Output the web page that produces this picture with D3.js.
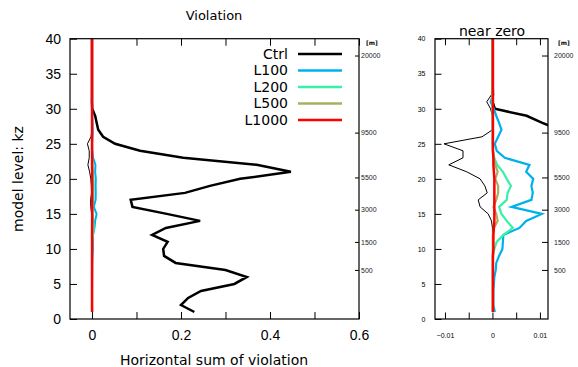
<!DOCTYPE html>
<html>
<head>
<meta charset="utf-8">
<style>
body { margin: 0; background: #fff; }
svg { font-family: "DejaVu Sans", sans-serif; }
.axis path { display: none; }
.axis line { stroke: #000; stroke-width: 1; }
.frame { fill: none; stroke: #000; stroke-width: 1.2; }
.line { fill: none; stroke-linejoin: miter; }
</style>
</head>
<body>
<script src="https://cdn.jsdelivr.net/npm/d3@7"></script>
<script>

// model levels 1..40
var kz = d3.range(1, 41);

var ctrl = [0.23, 0.2, 0.216, 0.245, 0.32, 0.348, 0.30, 0.188, 0.162, 0.16,
            0.17, 0.135, 0.166, 0.243, 0.168, 0.091, 0.087, 0.209, 0.265, 0.333,
            0.447, 0.37, 0.205, 0.108, 0.052, 0.025, 0.014, 0.0105, 0.0072, 0.0005,
            0, 0, 0, 0, 0, 0, 0, 0, 0, 0];

// thin black line (no legend entry)
var ctrlThin = [0, 0, 0, 0, 0, 0, 0, 0, 0, 0,
                0, 0, 0, -0.0002, -0.0009, -0.0026, -0.003, -0.0011, -0.0016, -0.0026,
                -0.0054, -0.0092, -0.0062, -0.0062, -0.0102, -0.0022, 0, 0, 0, -0.0004,
                -0.0012, -0.0002, 0, 0, 0, 0, 0, 0, 0, 0];

var l100 = [0.0005, 0.0002, 0.0002, 0.0002, 0.0003, 0.0004, 0.0007, 0.0008, 0.0014, 0.0021,
            0.0022, 0.0023, 0.0057, 0.0071, 0.0104, 0.004, 0.0082, 0.0085, 0.0082, 0.0086,
            0.0071, 0.0078, 0.0026, 0.0009, 0.0005, 0.0012, 0.0019, 0.0014, 0.0008, 0.0003,
            -0.0004, 0.0002, 0.0001, 0, 0, 0, 0, 0, 0, 0];

var l200 = [0.0001, 0.0001, 0.0001, 0.0001, 0.0001, 0.0001, 0.0001, 0.0001, 0.0001, 0.0004,
            0.0009, 0.0023, 0.0043, 0.003, 0.0019, 0.0014, 0.003, 0.0032, 0.0039, 0.003,
            0.0022, 0.001, 0.0004, 0.0001, 0, 0, 0, 0, 0, 0,
            0, 0, 0, 0, 0, 0, 0, 0, 0, 0];

var l500 = [0.0001, 0.0001, 0.0001, 0.0001, 0.0001, 0.0001, 0.0001, 0.0001, 0.0001, 0.0001,
            0.0001, 0.0001, 0.0003, 0.0011, 0.0008, 0.0002, 0.0008, 0.0012, 0.0012, 0.0006,
            0.0011, 0.0006, 0.0002, 0.0001, 0.0001, 0.0001, 0.0001, 0.0001, 0.0001, 0.0001,
            0, 0, 0, 0, 0, 0, 0, 0, 0, 0];

var l1000 = [0.0001, 0.0001, 0.0001, 0.0001, 0.0001, 0.0001, 0.0001, 0.0001, 0.0001, 0.0002,
             0.0002, 0.0002, 0.0003, 0.0004, 0.0004, 0.0004, 0.0004, 0.0004, 0.0004, 0.0004,
             0.0003, 0.0002, 0.0002, 0.0001, 0.0001, 0.0001, 0.0001, 0.0001, 0.0001, 0.0001,
             0.0001, 0.0001, 0.0001, 0.0001, 0.0001, 0.0001, 0.0001, 0.0001, 0.0001, 0.0001];

var seriesNames = ["Ctrl", "L100", "L200", "L500", "L1000"];
var seriesColors = ["#000000", "#00b0ec", "#38f0a8", "#a8b060", "#ff0000"];

// height axis (right side), in metres, at model level
var heightLabels = ["20000", "9500", "5500", "3000", "1500", "500"];
var heightLevels = [37.6, 26.6, 20.2, 15.6, 11.0, 7.0];

var svg = d3.select("body").append("svg")
    .attr("width", 578)
    .attr("height", 367);

var plotTop = 38.7, plotBottom = 319;

var y = d3.scaleLinear().domain([0, 40]).range([plotBottom, plotTop]);

var panels = [
  { id: "a", x: d3.scaleLinear().domain([-0.0494, 0.6]).range([70, 359]),
    xTicks: d3.range(0, 0.61, 0.1), xLabelEvery: 0.2,
    tickFont: 14, tickLen: 7, xPad: 11.5, yPad: 9,
    hPad: 2, hLen: 4, thin: 1, colW: 2, title: "Violation", titleSize: 13,
    titleX: 214, titleY: 20 },
  { id: "b", x: d3.scaleLinear().domain([-0.0121, 0.0117]).range([435, 548]),
    xTicks: [-0.01, -0.005, 0, 0.005, 0.01], xLabelEvery: 0.01,
    tickFont: 7, tickLen: 6.5, xPad: 14, yPad: 9.5,
    hPad: 6, hLen: 6, thin: 1, colW: 2.2, title: "near zero", titleSize: 14,
    titleX: 492, titleY: 36 }
];

var allSeries = [ctrl, l100, l200, l500, l1000];

panels.forEach(function(p) {
  var x = p.x;
  var x0 = x.range()[0], x1 = x.range()[1];
  var g = svg.append("g");

  g.append("clipPath").attr("id", "clip-" + p.id)
    .append("rect")
    .attr("x", x0).attr("y", plotTop)
    .attr("width", x1 - x0).attr("height", plotBottom - plotTop);

  var fmt = function(d) {
    var r = Math.abs(d / p.xLabelEvery - Math.round(d / p.xLabelEvery));
    if (r > 1e-6) return "";
    if (Math.abs(d) < 1e-9) return "0";
    return d3.format("~g")(+d.toFixed(4));
  };

  // bottom axis
  g.append("g").attr("class", "axis")
    .attr("transform", "translate(0," + plotBottom + ")")
    .call(d3.axisBottom(x).tickValues(p.xTicks).tickSize(-p.tickLen)
          .tickPadding(p.xPad).tickFormat(fmt))
    .selectAll("text").style("font-size", p.tickFont + "px");

  // top axis ticks
  g.append("g").attr("class", "axis")
    .attr("transform", "translate(0," + plotTop + ")")
    .call(d3.axisTop(x).tickValues(p.xTicks).tickSize(-p.tickLen).tickFormat(""));

  // left axis
  g.append("g").attr("class", "axis")
    .attr("transform", "translate(" + x0 + ",0)")
    .call(d3.axisLeft(y).tickValues(d3.range(0, 41, 5)).tickSize(-p.tickLen)
          .tickPadding(p.yPad))
    .selectAll("text").style("font-size", p.tickFont + "px");

  // right axis: height in metres
  g.append("g").attr("class", "axis")
    .attr("transform", "translate(" + x1 + ",0)")
    .call(d3.axisRight(y).tickValues(heightLevels).tickSize(-p.hLen)
          .tickPadding(p.hPad).tickFormat(function(d, i) { return heightLabels[i]; }))
    .selectAll("text").style("font-size", "7px").attr("fill", "#222");

  g.append("text")
    .attr("x", x1 + (p.id === "a" ? 7 : 10))
    .attr("y", 45)
    .style("font-size", "6px").style("font-weight", "bold")
    .text("[m]");

  var plot = g.append("g").attr("clip-path", "url(#clip-" + p.id + ")");

  var line = function(vals) {
    return d3.line()
      .x(function(d, i) { return x(vals[i]); })
      .y(function(d) { return y(d); })(kz);
  };

  plot.append("path").attr("class", "line")
    .attr("d", line(ctrl)).attr("stroke", seriesColors[0]).attr("stroke-width", 2.5);
  plot.append("path").attr("class", "line")
    .attr("d", line(ctrlThin)).attr("stroke", "#000").attr("stroke-width", p.thin);
  [1, 2, 3].forEach(function(k) {
    plot.append("path").attr("class", "line")
      .attr("d", line(allSeries[k])).attr("stroke", seriesColors[k]).attr("stroke-width", p.colW);
  });
  plot.append("path").attr("class", "line")
    .attr("d", line(l1000)).attr("stroke", seriesColors[4]).attr("stroke-width", 2.5);

  g.append("rect").attr("class", "frame")
    .attr("x", x0).attr("y", plotTop)
    .attr("width", x1 - x0).attr("height", plotBottom - plotTop);

  g.append("text")
    .attr("x", p.titleX).attr("y", p.titleY)
    .attr("text-anchor", "middle")
    .style("font-size", p.titleSize + "px")
    .text(p.title);
});

// axis titles (left panel)
svg.append("text")
  .attr("x", 214).attr("y", 365)
  .attr("text-anchor", "middle")
  .style("font-size", "14px")
  .text("Horizontal sum of violation");

svg.append("text")
  .attr("transform", "translate(23,179) rotate(-90)")
  .attr("text-anchor", "middle")
  .style("font-size", "14px")
  .text("model level: kz");

// legend
var legend = svg.append("g").selectAll("g")
  .data(seriesNames)
  .enter().append("g")
  .attr("transform", function(d, i) { return "translate(0," + (54 + i * 16.5) + ")"; });

legend.append("text")
  .attr("x", 288).attr("dy", "0.35em")
  .attr("text-anchor", "end")
  .style("font-size", "14px")
  .text(function(d) { return d; });

legend.append("line")
  .attr("x1", 298).attr("x2", 342)
  .attr("stroke", function(d, i) { return seriesColors[i]; })
  .attr("stroke-width", 2.5);

</script>
</body>
</html>
